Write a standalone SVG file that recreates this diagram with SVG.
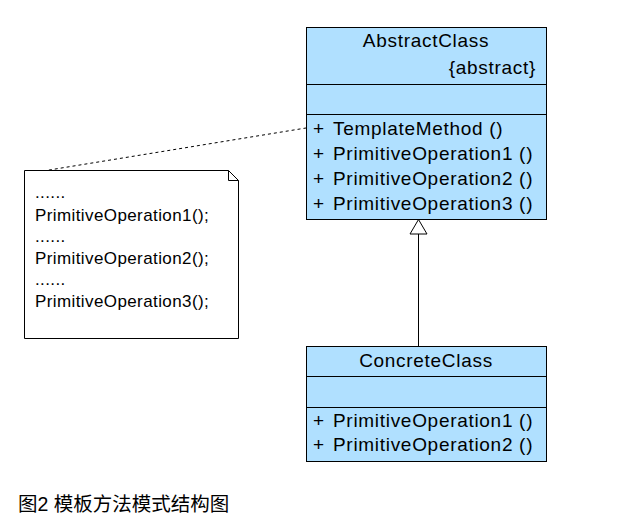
<svg xmlns="http://www.w3.org/2000/svg" width="630" height="521" viewBox="0 0 630 521">
<style>
.box{fill:#B0E0FF;stroke:#000;stroke-width:1}
.ln{stroke:#000;stroke-width:1;fill:none}
.t{font-family:"Liberation Sans",Arial,sans-serif;font-size:19px;letter-spacing:0.7px;fill:#000}
.n{font-family:"Liberation Sans",Arial,sans-serif;font-size:17px;letter-spacing:0.4px;fill:#000}
.c{font-family:"Liberation Sans","Noto Sans CJK SC",sans-serif;font-size:19.5px;fill:#000}
</style>
<rect width="630" height="521" fill="#fff"/>
<g id="connectors">
<line class="ln" x1="37" y1="172" x2="306" y2="128" stroke-dasharray="3,3"/>
<line class="ln" x1="418.5" y1="234" x2="418.5" y2="346.5"/>
<polygon points="418.5,219.5 410,234 427,234" fill="#fff" stroke="#000" stroke-width="1"/>
</g>
<g id="AbstractClass">
<rect class="box" x="306.5" y="27.5" width="240" height="192"/>
<line class="ln" x1="306.5" y1="84.5" x2="546.5" y2="84.5"/>
<line class="ln" x1="306.5" y1="114.5" x2="546.5" y2="114.5"/>
<text class="t" x="426" y="47" text-anchor="middle">AbstractClass</text>
<text class="t" x="536" y="74" text-anchor="end">{abstract}</text>
<text class="t" x="313" y="134.5">+</text><text class="t" x="333" y="134.5">TemplateMethod ()</text>
<text class="t" x="313" y="159.7">+</text><text class="t" x="333" y="159.7">PrimitiveOperation1 ()</text>
<text class="t" x="313" y="184.9">+</text><text class="t" x="333" y="184.9">PrimitiveOperation2 ()</text>
<text class="t" x="313" y="210">+</text><text class="t" x="333" y="210">PrimitiveOperation3 ()</text>
</g>
<g id="ConcreteClass">
<rect class="box" x="306.5" y="346.5" width="240" height="115"/>
<line class="ln" x1="306.5" y1="376.5" x2="546.5" y2="376.5"/>
<line class="ln" x1="306.5" y1="407.5" x2="546.5" y2="407.5"/>
<text class="t" x="426" y="367" text-anchor="middle">ConcreteClass</text>
<text class="t" x="313" y="427">+</text><text class="t" x="333" y="427">PrimitiveOperation1 ()</text>
<text class="t" x="313" y="451">+</text><text class="t" x="333" y="451">PrimitiveOperation2 ()</text>
</g>
<g id="note">
<path d="M24.5,170.5 H228.5 L238.5,180.5 V338.5 H24.5 Z" fill="#fff" stroke="#000" stroke-width="1"/>
<path class="ln" d="M228.5,170.5 V180.5 H238.5"/>
<text class="n" x="35" y="198">......</text>
<text class="n" x="35" y="221">PrimitiveOperation1();</text>
<text class="n" x="35" y="242">......</text>
<text class="n" x="35" y="264">PrimitiveOperation2();</text>
<text class="n" x="35" y="285">......</text>
<text class="n" x="35" y="307">PrimitiveOperation3();</text>
</g>
<g id="caption">
<text class="c" x="18" y="511">图2 模板方法模式结构图</text>
</g>
</svg>
